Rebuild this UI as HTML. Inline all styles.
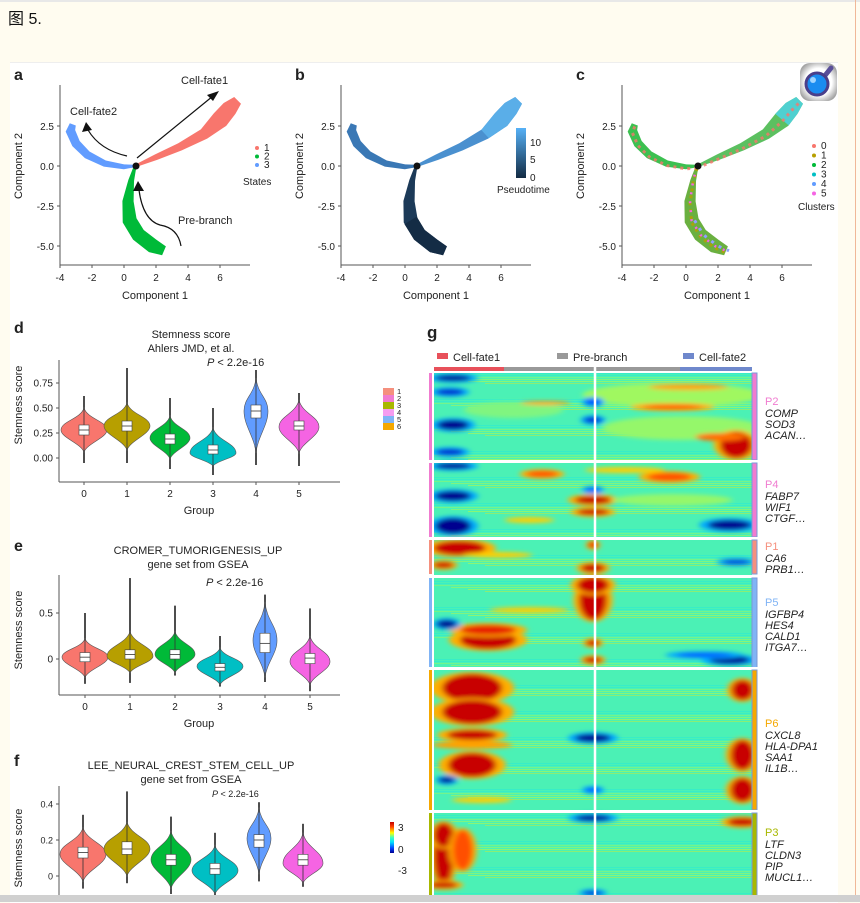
<!DOCTYPE html>
<html><head><meta charset="utf-8">
<style>
body{margin:0;width:860px;height:902px;overflow:hidden;background:#fffcf0;font-family:"Liberation Sans","Noto Sans CJK SC",sans-serif;position:relative}
#title{position:absolute;left:8px;top:5px;font-size:16px;color:#111}
#topline{position:absolute;left:0;top:0;width:860px;height:2px;background:#e8e8e8}
#rborder{position:absolute;left:855px;top:0;width:1px;height:902px;background:#f0b898}
#panel{position:absolute;left:10px;top:62px;width:828px;height:840px;background:#fff;border-top:1px solid #eee}
#bottombar{position:absolute;left:0;top:895px;width:860px;height:7px;background:#d0d0d0}
svg text{font-family:"Liberation Sans",sans-serif;fill:#222}
</style></head><body>
<div id="topline"></div>
<div id="title">图 5.</div>
<div id="rborder"></div>
<div id="panel"></div>
<svg id="fig" width="860" height="902" style="position:absolute;left:0;top:0">
<defs>
<filter id="blur" x="-50%" y="-50%" width="200%" height="200%"><feGaussianBlur stdDeviation="3 2"/></filter>
<clipPath id="hmclip"><rect x="434" y="373" width="318" height="523"/></clipPath>
<linearGradient id="ptbar" x1="0" y1="1" x2="0" y2="0"><stop offset="0" stop-color="#132b43"/><stop offset="1" stop-color="#56b1f7"/></linearGradient>
<linearGradient id="jet" x1="0" y1="1" x2="0" y2="0"><stop offset="0" stop-color="#00008f"/><stop offset=".15" stop-color="#0040ff"/><stop offset=".35" stop-color="#00e0ff"/><stop offset=".5" stop-color="#40ffc0"/><stop offset=".65" stop-color="#ffff00"/><stop offset=".85" stop-color="#ff4000"/><stop offset="1" stop-color="#c00000"/></linearGradient>
<radialGradient id="mag" cx=".5" cy=".5" r=".6"><stop offset=".6" stop-color="#fff"/><stop offset="1" stop-color="#999"/></radialGradient>
</defs>
<g id="scatter"></g>
<g id="violins"></g>
<g id="heat"></g>
<g>
<rect x="800" y="63" width="37" height="38" rx="10" fill="url(#mag)"/>
<line x1="823" y1="78" x2="831" y2="68" stroke="#5a4f9a" stroke-width="5" stroke-linecap="round"/>
<circle cx="817" cy="84" r="11" fill="#1a8cf0" stroke="#4a3f8a" stroke-width="3"/>
<circle cx="813" cy="80" r="3" fill="#9fd4ff"/>
</g>
</svg>
<div id="bottombar"></div>
<script>
// ---------- trajectory data (component 1, component 2, half-width) ----------
const fate1X=[0.7,2,3.5,5,6,6.6,7.1];
const fate1Y=[0,0.55,1.2,2.0,2.9,3.6,4.1];
const fate1W=[0.08,0.18,0.25,0.35,0.55,0.5,0.3];
const fate2X=[0.7,0,-1.2,-2.3,-3.0,-3.35,-3.2];
const fate2Y=[0,-0.05,0.15,0.7,1.4,2.2,2.6];
const fate2W=[0.08,0.15,0.2,0.25,0.28,0.3,0.2];
const preX=[0.7,0.45,0.25,0.35,0.9,1.8,2.5];
const preY=[0,-0.9,-2.2,-3.4,-4.3,-5.0,-5.3];
const preW=[0.08,0.18,0.35,0.45,0.45,0.45,0.3];
const compTicksX=[-4,-2,0,2,4,6];
const compTicksY=[2.5,0.0,-2.5,-5.0];
const stateLabels=['1','2','3'];
const clusterLabels=['0','1','2','3','4','5'];
const vColors=['#f8766d','#b79f00','#00ba38','#00bfc4','#619cff','#f564e3'];

const NS='http://www.w3.org/2000/svg';
function el(tag,attrs,parent,txt){const e=document.createElementNS(NS,tag);for(const k in attrs)e.setAttribute(k,attrs[k]);if(txt!==undefined)e.textContent=txt;parent.appendChild(e);return e;}
const S=document.getElementById('scatter');

function ribbon(xs,ys,ws,sx,sy){
  const L=[],R=[];
  for(let i=0;i<xs.length;i++){
    const j=Math.min(i+1,xs.length-1),k=Math.max(i-1,0);
    let dx=sx(xs[j])-sx(xs[k]),dy=sy(ys[j])-sy(ys[k]);const n=Math.hypot(dx,dy)||1;
    const nx=-dy/n,ny=dx/n,w=ws[i]*16;
    L.push([sx(xs[i])+nx*w,sy(ys[i])+ny*w]);R.push([sx(xs[i])-nx*w,sy(ys[i])-ny*w]);
  }
  return 'M'+L.map(p=>p.join(',')).join('L')+'L'+R.reverse().map(p=>p.join(',')).join('L')+'Z';
}
function centre(xs,ys,sx,sy){return 'M'+xs.map((x,i)=>sx(x)+','+sy(ys[i])).join('L');}

function trajPanel(off,letter,kind){
  const g=el('g',{},S);
  
  
  const sx=v=>124+off+v*16, sy=v=>166-v*16;
  el('text',{x:14+off,y:80,'font-size':16,'font-weight':'bold'},g,letter);
  el('line',{x1:60+off,y1:85,x2:60+off,y2:265,stroke:'#555','stroke-width':1},g);
  el('line',{x1:60+off,y1:265,x2:250+off,y2:265,stroke:'#555','stroke-width':1},g);
  compTicksX.forEach(t=>{el('line',{x1:sx(t),y1:265,x2:sx(t),y2:268,stroke:'#555'},g);
    const tx=el('text',{x:sx(t),y:281,'font-size':10,'text-anchor':'middle'},g,String(t));
    });
  compTicksY.forEach(t=>{el('line',{x1:57+off,y1:sy(t),x2:60+off,y2:sy(t),stroke:'#555'},g);
    const ty=el('text',{x:54+off,y:sy(t)+4,'font-size':10,'text-anchor':'end'},g,t.toFixed(1));
    });
  const xt=el('text',{x:155+off,y:299,'font-size':11,'text-anchor':'middle'},g,'Component 1');
  
  const yt=el('text',{x:0,y:0,'font-size':11,'text-anchor':'middle',transform:`translate(${22+off},166) rotate(-90)`},g,'Component 2');
  
  let c1,c2,c3;
  if(kind==='a'){c1='#f8766d';c2='#619cff';c3='#00ba38';}
  else if(kind==='b'){c1='#4a90cf';c2='#3a78b5';c3='#1c3a58';}
  else {c1='#5cc060';c2='#3cc050';c3='#6ab040';}
  const b1=el('path',{d:ribbon(fate1X,fate1Y,fate1W,sx,sy),fill:c1},g);
  
  const b2=el('path',{d:ribbon(fate2X,fate2Y,fate2W,sx,sy),fill:c2},g);
  
  const b3=el('path',{d:ribbon(preX,preY,preW,sx,sy),fill:c3},g);
  
  if(kind==='b'){
    el('path',{d:ribbon(fate1X.slice(3),fate1Y.slice(3),fate1W.slice(3),sx,sy),fill:'#5aaee8'},g);
    el('path',{d:ribbon(preX.slice(3),preY.slice(3),preW.slice(3),sx,sy),fill:'#142c45'},g);
  }
  if(kind==='c'){
    el('path',{d:ribbon(fate1X.slice(4),fate1Y.slice(4),fate1W.slice(4),sx,sy),fill:'#4fd0d0'},g);
    [[fate2X,fate2Y,'#f8766d'],[preX,preY,'#b79f00'],[fate1X,fate1Y,'#f8766d']].forEach(([xs,ys,c])=>{
      el('path',{d:centre(xs,ys,sx,sy),fill:'none',stroke:c,'stroke-width':3,'stroke-dasharray':'3 4',opacity:.8,transform:'translate(0,2)'},g);});
    el('path',{d:centre(preX,preY,sx,sy),fill:'none',stroke:'#f564e3','stroke-width':2.5,'stroke-dasharray':'2 7'},g);
    el('path',{d:centre(preX.slice(3),preY.slice(3),sx,sy),fill:'none',stroke:'#8fa0ff','stroke-width':3,'stroke-dasharray':'3 6',transform:'translate(3,0)'},g);
  }
  el('circle',{cx:sx(0.75),cy:sy(0),r:3.5,fill:'#111'},g);
  if(kind==='a'){
    el('line',{x1:137,y1:158,x2:213,y2:96,stroke:'#111','stroke-width':1.2},g);
    el('path',{d:'M219,91 L207,95 L213,101Z',fill:'#111'},g);
    el('path',{d:'M127,156 Q100,150 88,130',fill:'none',stroke:'#111','stroke-width':1.2},g);
    el('path',{d:'M86,122 L82,132 L92,130Z',fill:'#111'},g);
    el('path',{d:'M181,246 Q178,228 160,225 Q143,220 139,190',fill:'none',stroke:'#111','stroke-width':1.2},g);
    el('path',{d:'M138,181 L133,191 L144,191Z',fill:'#111'},g);
    el('text',{x:181,y:84,'font-size':11},g,'Cell-fate1');
    el('text',{x:70,y:115,'font-size':11},g,'Cell-fate2');
    el('text',{x:178,y:224,'font-size':11},g,'Pre-branch');
    const sc=['#f8766d','#00ba38','#619cff'];
    stateLabels.forEach((s,i)=>{const d=el('circle',{cx:257,cy:148+i*8.5,r:2,fill:sc[i]},g);
      
      el('text',{x:264,y:151+i*8.5,'font-size':10},g,s);});
    el('text',{x:243,y:185,'font-size':10},g,'States');
  }
  if(kind==='b'){
    const cb=el('rect',{x:516,y:128,width:10,height:50,fill:'url(#ptbar)'},g);
    
    [['10',143],['5',160],['0',178]].forEach(([t,y])=>el('text',{x:530,y:y+3,'font-size':10},g,t));
    el('text',{x:497,y:193,'font-size':10},g,'Pseudotime');
  }
  if(kind==='c'){
    clusterLabels.forEach((s,i)=>{const d=el('circle',{cx:814,cy:146+i*9.5,r:2,fill:vColors[i]},g);
      
      el('text',{x:821,y:149+i*9.5,'font-size':10},g,s);});
    el('text',{x:798,y:210,'font-size':10},g,'Clusters');
  }
}
trajPanel(0,'a','a');trajPanel(281,'b','b');trajPanel(562,'c','c');

// ---------- violin data ----------
const groups=['0','1','2','3','4','5'];
const dMed=[0.28,0.32,0.19,0.08,0.47,0.32];
const dQ1=[0.23,0.27,0.14,0.04,0.40,0.28];
const dQ3=[0.33,0.37,0.24,0.13,0.53,0.37];
const dMin=[-0.05,-0.05,-0.11,-0.17,-0.07,-0.08];
const dMax=[0.62,0.9,0.6,0.5,0.88,0.65];
const dBodyTop=[0.5,0.55,0.42,0.3,0.8,0.58];
const dBodyBot=[0.06,0.08,-0.01,-0.08,0.05,0.05];
const dMode=[0.28,0.32,0.2,0.05,0.47,0.31];
const dTicks=[0.75,0.5,0.25,0.0];
const eMed=[0.02,0.05,0.05,-0.09,0.17,0.01];
const eQ1=[-0.03,0,0,-0.13,0.07,-0.05];
const eQ3=[0.07,0.1,0.1,-0.05,0.28,0.06];
const eMin=[-0.27,-0.26,-0.18,-0.3,-0.25,-0.35];
const eMax=[0.5,0.88,0.58,0.25,0.7,0.55];
const eBodyTop=[0.22,0.3,0.3,0.12,0.62,0.25];
const eBodyBot=[-0.2,-0.15,-0.15,-0.28,-0.2,-0.28];
const eMode=[0.02,0.03,0.05,-0.08,0.2,-0.03];
const eTicks=[0.5,0];
const fMed=[0.13,0.15,0.09,0.04,0.2,0.09];
const fQ1=[0.1,0.12,0.06,0.01,0.16,0.06];
const fQ3=[0.16,0.19,0.12,0.07,0.23,0.12];
const fMin=[-0.07,-0.04,-0.1,-0.12,-0.03,-0.06];
const fMax=[0.34,0.47,0.33,0.24,0.41,0.29];
const fBodyTop=[0.27,0.3,0.25,0.17,0.38,0.24];
const fBodyBot=[-0.03,0,-0.07,-0.1,0.01,-0.04];
const fMode=[0.12,0.15,0.09,0.03,0.21,0.07];
const fTicks=[0.4,0.2,0];
const halfW=[23,23,20,23,12,20];

const V=document.getElementById('violins');
function violinPanel(cfg){
  const g=el('g',{},V);
  
  
  const sy=v=>cfg.y0-v*cfg.k, sx=i=>cfg.x0+i*cfg.dx;
  el('text',{x:14,y:cfg.ly,'font-size':16,'font-weight':'bold'},g,cfg.letter);
  cfg.titles.forEach((t,i)=>el('text',{x:cfg.tx,y:cfg.ty+i*14,'font-size':11,'text-anchor':'middle'},g,t));
  el('text',{x:cfg.px,y:cfg.py,'font-size':cfg.pfs},g).innerHTML='<tspan font-style="italic">P</tspan> &lt; 2.2e-16';
  el('line',{x1:59,y1:cfg.top,x2:59,y2:cfg.bot,stroke:'#555'},g);
  if(cfg.xaxis){el('line',{x1:59,y1:cfg.bot,x2:340,y2:cfg.bot,stroke:'#555'},g);
    groups.forEach((s,i)=>{el('line',{x1:sx(i),y1:cfg.bot,x2:sx(i),y2:cfg.bot+3,stroke:'#555'},g);
      el('text',{x:sx(i),y:cfg.bot+15,'font-size':10,'text-anchor':'middle'},g,s);});
    const gx=el('text',{x:199,y:cfg.bot+32,'font-size':11,'text-anchor':'middle'},g,'Group');
    }
  cfg.ticks.forEach(t=>{el('line',{x1:56,y1:sy(t),x2:59,y2:sy(t),stroke:'#555'},g);
    el('text',{x:53,y:sy(t)+3.5,'font-size':cfg.tfs,'text-anchor':'end'},g,cfg.fmt(t));});
  const yt=el('text',{x:0,y:0,'font-size':11,'text-anchor':'middle',transform:`translate(22,${cfg.ymid}) rotate(-90)`},g,'Stemness score');
  
  groups.forEach((s,i)=>{
    const cx=sx(i),t=sy(cfg.btop[i]),b=sy(cfg.bbot[i]),m=sy(cfg.mode[i]),w=halfW[i];
    el('line',{x1:cx,y1:sy(cfg.max[i]),x2:cx,y2:sy(cfg.min[i]),stroke:'#222','stroke-width':1.6},g);
    const d=`M${cx},${t} C${cx+w*0.15},${t+(m-t)*0.5} ${cx+w},${m-(m-t)*0.4} ${cx+w},${m} C${cx+w},${m+(b-m)*0.35} ${cx+w*0.15},${b-(b-m)*0.4} ${cx},${b} C${cx-w*0.15},${b-(b-m)*0.4} ${cx-w},${m+(b-m)*0.35} ${cx-w},${m} C${cx-w},${m-(m-t)*0.4} ${cx-w*0.15},${t+(m-t)*0.5} ${cx},${t}Z`;
    const v=el('path',{d:d,fill:vColors[i],stroke:'#555','stroke-width':0.6},g);
    
    el('line',{x1:cx,y1:t,x2:cx,y2:b,stroke:'#333','stroke-width':0.8},g);
    const bx=el('rect',{x:cx-5,y:sy(cfg.q3[i]),width:10,height:sy(cfg.q1[i])-sy(cfg.q3[i]),fill:'#fff',stroke:'#444','stroke-width':0.6},g);
    
    el('line',{x1:cx-5,y1:sy(cfg.med[i]),x2:cx+5,y2:sy(cfg.med[i]),stroke:'#333','stroke-width':0.8},g);
  });
}
violinPanel({letter:'d',ly:333,titles:['Stemness score','Ahlers JMD, et al.'],tx:191,ty:338,px:207,py:366,pfs:11,
  y0:458,k:100,x0:84,dx:43,top:360,bot:482,xaxis:true,ticks:dTicks,fmt:t=>t.toFixed(2),tfs:10,ymid:405,
  med:dMed,q1:dQ1,q3:dQ3,min:dMin,max:dMax,mode:dMode,btop:dBodyTop,bbot:dBodyBot});
violinPanel({letter:'e',ly:551,titles:['CROMER_TUMORIGENESIS_UP','gene set from GSEA'],tx:198,ty:554,px:206,py:586,pfs:11,
  y0:659,k:92,x0:85,dx:45,top:575,bot:695,xaxis:true,ticks:eTicks,fmt:t=>String(t),tfs:10,ymid:630,
  med:eMed,q1:eQ1,q3:eQ3,min:eMin,max:eMax,mode:eMode,btop:eBodyTop,bbot:eBodyBot});
violinPanel({letter:'f',ly:766,titles:['LEE_NEURAL_CREST_STEM_CELL_UP','gene set from GSEA'],tx:191,ty:769,px:212,py:797,pfs:9,
  y0:876,k:180,x0:83,dx:44,top:786,bot:902,xaxis:false,ticks:fTicks,fmt:t=>String(t),tfs:9,ymid:848,
  med:fMed,q1:fQ1,q3:fQ3,min:fMin,max:fMax,mode:fMode,btop:fBodyTop,bbot:fBodyBot});

// ---------- heatmap ----------
const modNames=['P2','P4','P1','P5','P6','P3'];
const modTop=[373,463,540,578,670,813];
const modBot=[460,537,574,668,810,896];
const modColors=['#f07cd0','#f07cd0','#f5907e','#80b4f5','#f5a800','#a8b800'];
const modGenes=[['COMP','SOD3','ACAN…'],['FABP7','WIF1','CTGF…'],['CA6','PRB1…'],['IGFBP4','HES4','CALD1','ITGA7…'],['CXCL8','HLA-DPA1','SAA1','IL1B…'],['LTF','CLDN3','PIP','MUCL1…']];
const modLabelY=[405,488,550,606,727,836];
// blobs: [pseudotime fraction 0..1 across columns, row y, rx, ry, value -3..3]
const blobs=[
[0.75,395,90,12,0.45],[0.78,428,80,12,0.4],[0.25,410,50,8,0.3],
[0.06,378,18,3,-3],[0.05,392,14,3,-2.5],[0.06,425,16,5,-3],[0.05,452,14,3,-2.5],[0.5,402,8,3,-2],[0.5,420,9,3,-2.5],
[0.95,445,16,13,3],[0.9,437,25,4,1.8],[0.8,387,40,3,1.5],[0.35,403,25,2,1.5],[0.75,407,30,2,2],
[0.06,466,18,3,-3],[0.06,496,18,5,-3],[0.06,526,18,8,-3],[0.5,500,18,4,3],[0.5,512,16,3,3],[0.34,474,16,3,2],[0.74,477,22,4,2],
[0.6,470,40,3,1.2],[0.93,525,22,5,-3],[0.5,490,8,2,-2],[0.3,520,25,3,1.2],[0.75,500,60,6,0.4],
[0.08,548,26,7,3],[0.03,565,10,3,3],[0.5,568,12,4,3],[0.5,545,5,3,2.5],[0.95,562,14,2,-2.5],[0.2,555,35,3,1.2],
[0.5,600,14,20,3],[0.5,585,16,8,3],[0.17,640,28,9,3],[0.17,630,28,5,2.5],[0.04,624,10,4,-3],[0.5,643,7,3,3],[0.5,660,9,3,3],
[0.93,660,20,4,-3],[0.85,655,28,2,-2],[0.3,610,40,3,1.2],
[0.12,688,30,14,3],[0.12,712,30,12,3],[0.12,735,25,5,3],[0.12,765,24,12,3],[0.97,690,11,10,3],[0.97,755,12,15,3],[0.97,790,12,12,3],
[0.5,738,18,4,-3],[0.04,780,8,3,-3],[0.5,790,8,2,-2],[0.15,800,30,3,1.2],[0.12,745,40,4,1.5],
[0.03,855,10,30,3],[0.03,835,10,12,3],[0.09,850,10,20,2],[0.5,818,18,3,-3],[0.97,822,15,4,3],[0.03,885,14,3,3],[0.5,893,10,2,-2.5]
];
function jet(v){const t=(v+3)/6;
  const stops=[[0,[0,0,143]],[.15,[0,64,255]],[.35,[0,224,255]],[.5,[64,240,192]],[.65,[255,255,0]],[.85,[255,64,0]],[1,[200,0,0]]];
  for(let i=1;i<stops.length;i++){if(t<=stops[i][0]){const a=stops[i-1],b=stops[i],f=(t-a[0])/(b[0]-a[0]);
    return 'rgb('+a[1].map((c,j)=>Math.round(c+(b[1][j]-c)*f)).join(',')+')';}}
  return 'rgb(200,0,0)';}
const H=document.getElementById('heat');
const hx=f=>434+f*318;
el('text',{x:427,y:338,'font-size':17,'font-weight':'bold'},H,'g');
[['#e8505a',437,'Cell-fate1'],['#999',557,'Pre-branch'],['#6f88cc',683,'Cell-fate2']].forEach(([c,x,t])=>{
  const s=el('rect',{x:x,y:353,width:11,height:6,fill:c},H);
  
  el('text',{x:x+16,y:361,'font-size':11},H,t);});
el('rect',{x:434,y:367,width:70,height:4,fill:'#e8505a'},H);
el('rect',{x:504,y:367,width:176,height:4,fill:'#999'},H);
el('rect',{x:680,y:367,width:72,height:4,fill:'#6f88cc'},H);
const HM=el('g',{'clip-path':'url(#hmclip)'},H);

el('rect',{x:434,y:373,width:318,height:523,fill:jet(0.05)},HM);
for(let y=373;y<896;y+=2){const k=(y*7)%13;
  if(k<4) el('rect',{x:434+(k*17)%60,y:y,width:318,height:1,fill:jet(0.6+k*0.15),opacity:.35},HM);
  else if(k>10) el('rect',{x:434,y:y,width:318,height:1,fill:jet(-0.7),opacity:.3},HM);}
const BG=el('g',{filter:'url(#blur)'},HM);
blobs.forEach(b=>{
  if(Math.abs(b[4])>=2){const c=el('ellipse',{cx:hx(b[0]),cy:b[1],rx:b[2]*1.4,ry:b[3]+2,fill:b[4]>0?jet(1.4):jet(-1.3)},BG);
    }
  const e=el('ellipse',{cx:hx(b[0]),cy:b[1],rx:b[2],ry:b[3],fill:jet(b[4])},BG);
  
});
el('line',{x1:595,y1:367,x2:595,y2:896,stroke:'#fff','stroke-width':2.5},H);
modNames.forEach((n,i)=>{
  if(i>0) el('rect',{x:428,y:modTop[i]-3,width:332,height:3,fill:'#fff'},H);
  const lb=el('rect',{x:429,y:modTop[i],width:3,height:modBot[i]-modTop[i],fill:modColors[i]},H);
  
  const rb=el('rect',{x:752,y:modTop[i],width:5,height:modBot[i]-modTop[i],fill:modColors[i],stroke:'#7a98d8','stroke-width':1},H);
  
  const t=el('text',{x:765,y:modLabelY[i],'font-size':11},H,n);t.style.fill=modColors[i];
  
  modGenes[i].forEach((gname,j)=>el('text',{x:765,y:modLabelY[i]+12+j*11,'font-size':11,'font-style':'italic'},H,gname));
});
// cluster legend
const legCols=['#f5907e','#f07cd0','#a8b800','#f59cf0','#80b4f5','#f5a800'];
legCols.forEach((c,i)=>{const r=el('rect',{x:383,y:388+i*7,width:11,height:7,fill:c},H);
  
  el('text',{x:397,y:394+i*7,'font-size':7.5},H,String(i+1));});
// jet colorbar
const jb=el('rect',{x:390,y:822,width:4,height:31,fill:'url(#jet)'},H);

[['3',831],['0',853],['-3',874]].forEach(([t,y])=>el('text',{x:398,y:y,'font-size':10},H,t));
</script>
</body></html>
